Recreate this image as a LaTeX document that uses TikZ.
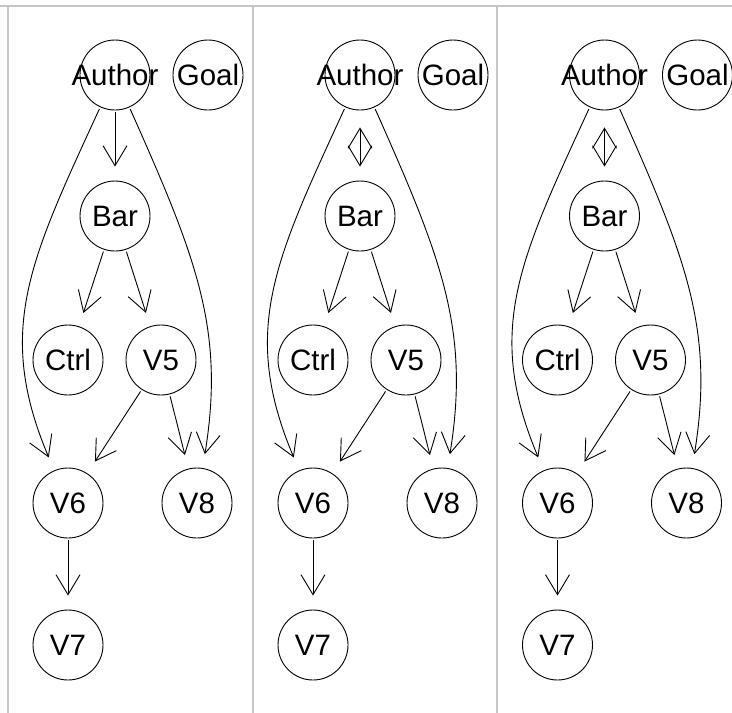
\documentclass[tikz,border=0pt]{standalone}
\usepackage{fontspec}
\setmainfont{Liberation Sans}
\usetikzlibrary{arrows.meta}
\tikzset{
  var/.style={circle, draw, line width=0.9pt, minimum size=70pt, inner sep=0pt,
    font=\fontsize{29.5}{30}\selectfont},
  dep/.style={line width=0.9pt, -{Straight Barb[length=20pt,width=24pt]},
    shorten >=14pt, shorten <=2pt},
  bidep/.style={line width=0.9pt,
    {Straight Barb[length=20pt,width=24pt]}-{Straight Barb[length=20pt,width=24pt]},
    shorten >=14pt, shorten <=17pt},
  frame/.style={gray!45, line width=1.5pt}
}
\begin{document}
\begin{tikzpicture}[x=1pt,y=-1pt]
\useasboundingbox (0,0) rectangle (732,713);
\draw[frame] (0,6) -- (732,6);
\draw[frame] (8,6) -- (8,713);
\draw[frame] (253,6) -- (253,713);
\draw[frame] (497,6) -- (497,713);
%
\node[var] (author1) at (115,75) {\makebox[0pt]{Author}};
\node[var] (goal1) at (208,75) {Goal};
\node[var] (bar1) at (115,216) {Bar};
\node[var] (ctrl1) at (68,360) {Ctrl};
\node[var] (v51) at (161,360) {V5};
\node[var] (v61) at (68,503) {V6};
\node[var] (v81) at (197,503) {V8};
\node[var] (v71) at (68,645) {V7};
\draw[dep] (author1) -- (bar1);
\draw[dep] (author1) .. controls (30,260) and (-5,330) .. (v61);
\draw[dep] (author1) .. controls (197,259) and (225,330) .. (v81);
\draw[dep] (bar1) -- (ctrl1);
\draw[dep] (bar1) -- (v51);
\draw[dep] (v51) -- (v61);
\draw[dep] (v51) -- (v81);
\draw[dep] (v61) -- (v71);
%
\node[var] (author2) at (360,75) {\makebox[0pt]{Author}};
\node[var] (goal2) at (453,75) {Goal};
\node[var] (bar2) at (360,216) {Bar};
\node[var] (ctrl2) at (313,360) {Ctrl};
\node[var] (v52) at (406,360) {V5};
\node[var] (v62) at (313,503) {V6};
\node[var] (v82) at (442,503) {V8};
\node[var] (v72) at (313,645) {V7};
\draw[bidep] (author2) -- (bar2);
\draw[dep] (author2) .. controls (275,260) and (240,330) .. (v62);
\draw[dep] (author2) .. controls (442,259) and (470,330) .. (v82);
\draw[dep] (bar2) -- (ctrl2);
\draw[dep] (bar2) -- (v52);
\draw[dep] (v52) -- (v62);
\draw[dep] (v52) -- (v82);
\draw[dep] (v62) -- (v72);
%
\node[var] (author3) at (604.5,75) {\makebox[0pt]{Author}};
\node[var] (goal3) at (697.5,75) {Goal};
\node[var] (bar3) at (604.5,216) {Bar};
\node[var] (ctrl3) at (557.5,360) {Ctrl};
\node[var] (v53) at (650.5,360) {V5};
\node[var] (v63) at (557.5,503) {V6};
\node[var] (v83) at (686.5,503) {V8};
\node[var] (v73) at (557.5,645) {V7};
\draw[bidep] (author3) -- (bar3);
\draw[dep] (author3) .. controls (519.5,260) and (484.5,330) .. (v63);
\draw[dep] (author3) .. controls (686.5,259) and (714.5,330) .. (v83);
\draw[dep] (bar3) -- (ctrl3);
\draw[dep] (bar3) -- (v53);
\draw[dep] (v53) -- (v63);
\draw[dep] (v53) -- (v83);
\draw[dep] (v63) -- (v73);
\end{tikzpicture}
\end{document}
